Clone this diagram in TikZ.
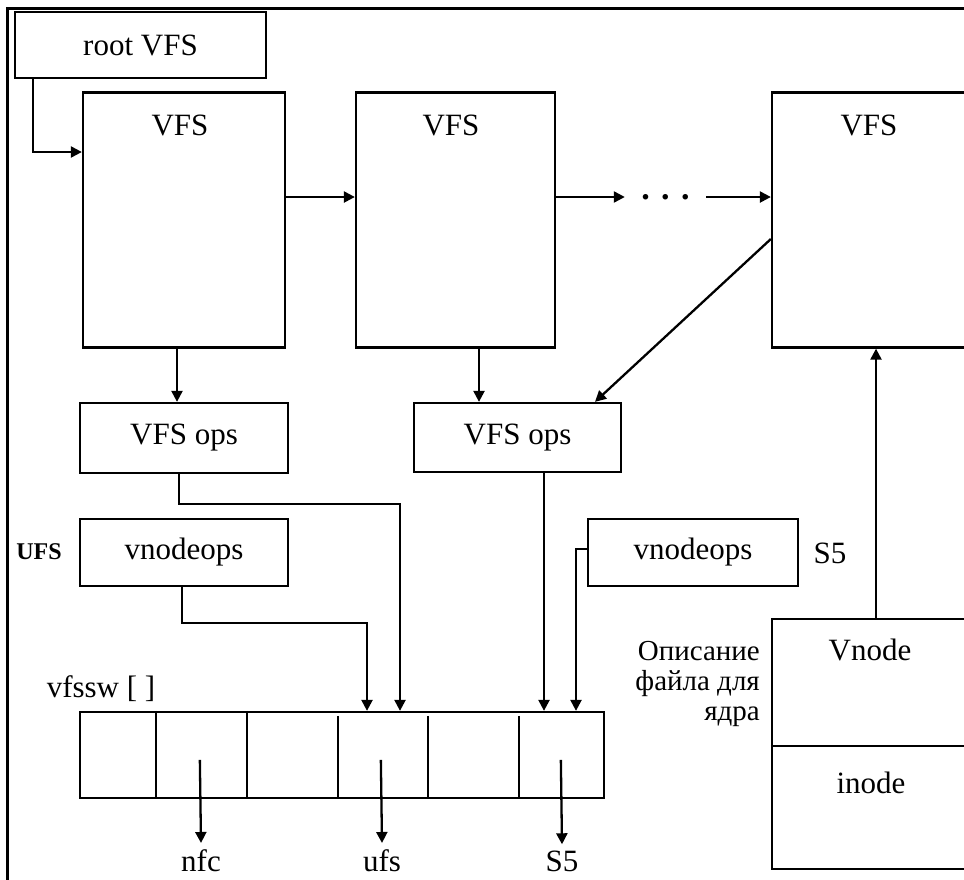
\documentclass[tikz,border=0pt]{standalone}
\usepackage{fontspec}
\setmainfont{Liberation Serif}
\usetikzlibrary{arrows.meta,calc}
\begin{document}
\begin{tikzpicture}[x=1pt,y=-1pt,
  box/.style={draw,line width=2.3pt,rectangle,inner sep=0pt},
  arr/.style={line width=2.3pt,-{Triangle[length=11pt,width=11pt]}},
  ln/.style={line width=2.3pt},
  txt/.style={inner sep=0pt,font=\fontsize{31}{36}\selectfont}]
\useasboundingbox (0,0) rectangle (964,879);
\fill[white] (0,0) rectangle (964,879);
\clip (0,0) rectangle (964,879);
% frame
\draw[line width=3pt] (7,885) -- (7,8) -- (970,8);
% boxes
\node[box,txt,minimum width=251pt,minimum height=66pt] (root) at (140.5,45) {root VFS};
\node[box,minimum width=202pt,minimum height=255pt] (v1) at (184,220) {};
\node[box,minimum width=199pt,minimum height=255pt] (v2) at (455.5,220) {};
\node[box,minimum width=196pt,minimum height=255pt] (v3) at (870,220) {};
\node[txt,anchor=base] (v1t) at (180,135) {VFS};
\node[txt,anchor=base] (v2t) at (451,135) {VFS};
\node[txt,anchor=base] (v3t) at (869,135) {VFS};
\node[inner sep=0pt,font=\bfseries\fontsize{34}{36}\selectfont,minimum width=81pt] (dots) at (665.5,197) {.\,\,.\,\,.};
\node[box,txt,minimum width=208pt,minimum height=70pt] (ops1) at (184,438) {VFS ops};
\node[box,txt,minimum width=207pt,minimum height=69pt] (ops2) at (517.5,437.5) {VFS ops};
\node[box,txt,minimum width=208pt,minimum height=67pt] (vops1) at (184,552.5) {vnodeops};
\node[box,txt,minimum width=210pt,minimum height=67pt] (vops2) at (693,552.5) {vnodeops};
\node[inner sep=0pt,font=\bfseries\fontsize{24}{28}\selectfont,anchor=base] (ufsl) at (39,559) {UFS};
\node[txt,anchor=base] (s5l) at (830,563) {S5};
\node[txt,anchor=base] (swl) at (101,697) {vfssw [ ]};
\node[box,minimum width=524pt,minimum height=86pt] (vfssw) at (342,755) {};
\node[box,minimum width=196pt,minimum height=250pt] (vnode) at (870,744) {};
\node[txt,anchor=base] (vnt) at (870,660) {Vnode};
\node[txt,anchor=base] (int) at (871,793) {inode};
\node[inner sep=0pt,font=\fontsize{29}{30}\selectfont,align=right,anchor=east] (desc) at (760,684) {Описание\\файла для\\ядра};
\node[txt,anchor=base] (nfc) at (201,871) {nfc};
\node[txt,anchor=base] (ufs) at (382,871) {ufs};
\node[txt,anchor=base] (s5) at (562,871) {S5};
% dividers
\draw[ln] ($(vfssw.north west)+(77,0)$) -- ($(vfssw.south west)+(77,0)$);
\draw[ln] ($(vfssw.north west)+(168,0)$) -- ($(vfssw.south west)+(168,0)$);
\foreach \d in {259,349,440} \draw[ln] ($(vfssw.north west)+(\d,5)$) -- ($(vfssw.south west)+(\d,0)$);
\draw[ln] ($(vnode.north west)+(0,128)$) -- ($(vnode.north east)+(0,128)$);
% connectors
\draw[arr] ($(root.south west)+(19,0)$) |- ([yshift=68pt]v1.west);
\draw[arr] ([yshift=23pt]v1.east) -- ([yshift=23pt]v2.west);
\draw[arr] ([yshift=23pt]v2.east) -- (dots.west);
\draw[arr] (dots.east) -- ([yshift=23pt]v3.west);
\draw[arr] ([yshift=-19pt]v3.west) -- ([xshift=77.5pt]ops2.north);
\draw[arr] ([xshift=-7pt]v1.south) -- ([xshift=-7pt]ops1.north);
\draw[arr] ([xshift=23.5pt]v2.south) -- ([xshift=-38.5pt]ops2.north);
\draw[arr] ([xshift=6pt]vnode.north) -- ([xshift=6pt]v3.south);
\draw[arr] ([xshift=-5pt]ops1.south) -- ++(0,30) -| ([xshift=58pt]vfssw.north);
\draw[arr] ([xshift=-2pt]vops1.south) -- ++(0,36) -| ([xshift=25pt]vfssw.north);
\draw[arr] ([xshift=26.5pt]ops2.south) -- ([xshift=202pt]vfssw.north);
\draw[arr] ([yshift=3.5pt]vops2.west) -| ([xshift=234pt]vfssw.north);
\coordinate (c1) at ($(vfssw.north west)+(121,49)$);
\coordinate (c2) at ($(vfssw.north west)+(302,49)$);
\coordinate (c3) at ($(vfssw.north west)+(482,49)$);
\draw[arr] (c1) -- ([yshift=6pt]nfc.north);
\draw[arr] (c2) -- ([yshift=6pt]ufs.north);
\draw[arr] (c3) -- ([yshift=6pt]s5.north);
\end{tikzpicture}
\end{document}
